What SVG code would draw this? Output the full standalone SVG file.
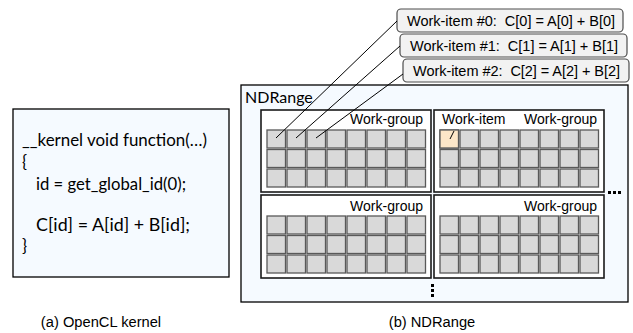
<svg xmlns="http://www.w3.org/2000/svg" width="633" height="333" viewBox="0 0 633 333">
  <style>
    .code { font-family: Lato, "Liberation Sans", sans-serif; font-size: 16.8px; fill: #000; }
    .lbl { font-family: "Liberation Sans", Arial, sans-serif; font-size: 14px; fill: #000; }
    .tagtxt { font-family: "Liberation Sans", Arial, sans-serif; font-size: 14.5px; fill: #000; }
    .panel { fill: #f5faff; stroke: #000; stroke-width: 1.3; }
    .wg { fill: #fff; stroke: #1a1a1a; stroke-width: 1.6; }
    .cell { fill: #d9d9d9; stroke: #595959; stroke-width: 1.3; }
    .cell.hot { fill: #fde7c9; }
    .tag { fill: #f2f2f2; stroke: #4d4d4d; stroke-width: 1.2; }
    .wire { stroke: #000; stroke-width: 1; fill: none; }
    .dot { fill: #000; }
  </style>
  <defs>
    <!-- one row of 8 work-items -->
    <g id="row">
      <rect class="cell" x="0" y="0" width="18.5" height="18" />
      <rect class="cell" x="20" y="0" width="18.5" height="18" />
      <rect class="cell" x="40" y="0" width="18.5" height="18" />
      <rect class="cell" x="60" y="0" width="18.5" height="18" />
      <rect class="cell" x="80" y="0" width="18.5" height="18" />
      <rect class="cell" x="100" y="0" width="18.5" height="18" />
      <rect class="cell" x="120" y="0" width="18.5" height="18" />
      <rect class="cell" x="140" y="0" width="18.5" height="18" />
    </g>
    <!-- 8x3 grid of work-items -->
    <g id="grid">
      <use href="#row" y="0" />
      <use href="#row" y="19.5" />
      <use href="#row" y="39" />
    </g>
  </defs>

  <!-- (a) kernel source -->
  <g id="kernel">
    <rect class="panel" x="13" y="109" width="216" height="168" />
    <text class="code" x="22" y="146" textLength="185" lengthAdjust="spacingAndGlyphs">__kernel void function(…)</text>
    <text class="code" x="22" y="168">{</text>
    <text class="code" x="36" y="190" textLength="150" lengthAdjust="spacingAndGlyphs">id = get_global_id(0);</text>
    <text class="code" x="36" y="231" textLength="154" lengthAdjust="spacingAndGlyphs">C[id] = A[id] + B[id];</text>
    <text class="code" x="22" y="252">}</text>
  </g>

  <!-- (b) NDRange -->
  <g id="ndrange">
    <rect class="panel" x="241" y="85" width="387" height="217" />
    <text class="code" x="245" y="103" style="font-size:16px">NDRange</text>
  </g>

  <g id="wg-0-0">
    <rect class="wg" x="261" y="110" width="170" height="82" />
    <text class="lbl" x="423" y="124" text-anchor="end">Work-group</text>
    <use href="#grid" x="267" y="130" />
  </g>

  <g id="wg-0-1">
    <rect class="wg" x="434" y="110" width="170" height="82" />
    <text class="lbl" x="597" y="124" text-anchor="end">Work-group</text>
    <text class="lbl" x="442" y="124">Work-item</text>
    <use href="#grid" x="440" y="130" />
    <rect class="cell hot" x="440" y="130" width="18.5" height="18" />
  </g>

  <g id="wg-1-0">
    <rect class="wg" x="261" y="195" width="170" height="83" />
    <text class="lbl" x="423" y="211" text-anchor="end">Work-group</text>
    <use href="#grid" x="267" y="216" />
  </g>

  <g id="wg-1-1">
    <rect class="wg" x="434" y="195" width="170" height="83" />
    <text class="lbl" x="597" y="211" text-anchor="end">Work-group</text>
    <use href="#grid" x="440" y="216" />
  </g>

  <!-- continuation marks -->
  <g id="more">
    <rect class="dot" x="608" y="191" width="3" height="3" />
    <rect class="dot" x="613" y="191" width="3" height="3" />
    <rect class="dot" x="618" y="191" width="3" height="3" />
    <rect class="dot" x="431" y="284" width="3" height="3" />
    <rect class="dot" x="431" y="289" width="3" height="3" />
    <rect class="dot" x="431" y="294" width="3" height="3" />
  </g>

  <!-- per-item computations -->
  <g id="item-0">
    <rect class="tag" x="397" y="9" width="226" height="23" rx="4" />
    <text class="tagtxt" x="407" y="25.5" textLength="208" lengthAdjust="spacing" xml:space="preserve">Work-item #0:  C[0] = A[0] + B[0]</text>
  </g>
  <g id="item-1">
    <rect class="tag" x="400" y="34" width="227" height="23" rx="4" />
    <text class="tagtxt" x="410" y="50.5" textLength="208" lengthAdjust="spacing" xml:space="preserve">Work-item #1:  C[1] = A[1] + B[1]</text>
  </g>
  <g id="item-2">
    <rect class="tag" x="403" y="59" width="226" height="23" rx="4" />
    <text class="tagtxt" x="413" y="75.5" textLength="207" lengthAdjust="spacing" xml:space="preserve">Work-item #2:  C[2] = A[2] + B[2]</text>
  </g>

  <g id="connectors">
    <line class="wire" x1="276" y1="138" x2="397" y2="21" />
    <line class="wire" x1="296" y1="138" x2="400" y2="46" />
    <line class="wire" x1="316" y1="138" x2="403" y2="74" />
    <line class="wire" x1="454" y1="131" x2="450" y2="139" />
  </g>

  <!-- captions -->
  <text class="lbl" x="101" y="327" text-anchor="middle" style="font-size:14.7px">(a) OpenCL kernel</text>
  <text class="lbl" x="432" y="327" text-anchor="middle" style="font-size:14.7px">(b) NDRange</text>
</svg>
